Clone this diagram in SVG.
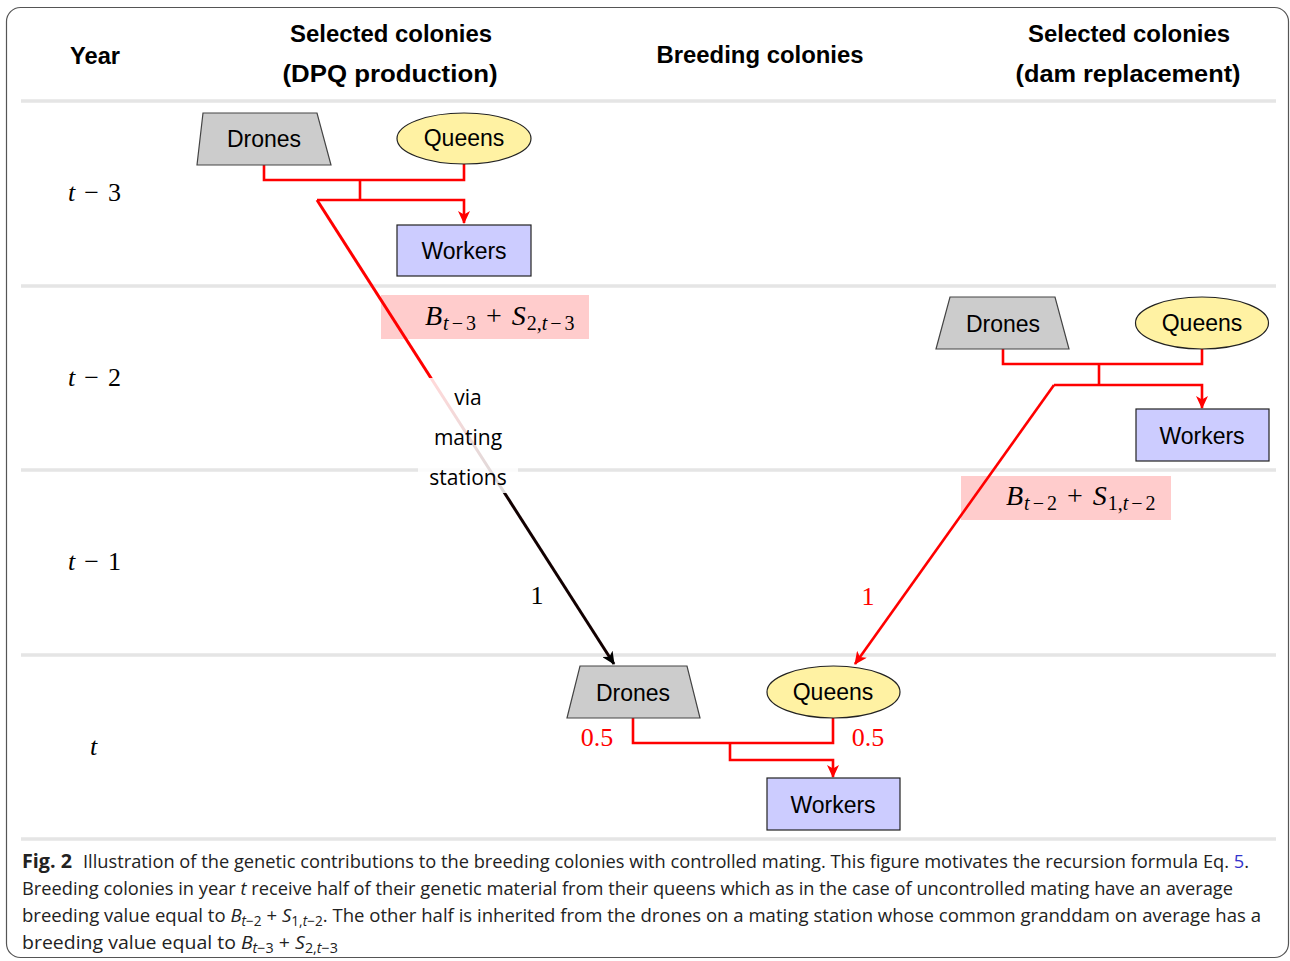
<svg xmlns="http://www.w3.org/2000/svg" width="1290" height="961" viewBox="0 0 1290 961">
<defs>
<style>
.hdr{font-family:"Liberation Sans",Arial,sans-serif;font-weight:bold;font-size:23px;fill:#000;text-anchor:middle}
.node{font-family:"Liberation Sans",Arial,sans-serif;font-size:23px;fill:#000;text-anchor:middle}
.math{font-family:"Liberation Serif","Times New Roman",serif;font-size:26px;fill:#000}
.bm{font-family:"Liberation Serif","Times New Roman",serif;font-size:28px;fill:#000}
.mi{font-style:italic}
.sub{font-size:20px}
.sep{stroke:#e5e5e5;stroke-width:3.5}
.drone{fill:#cccccc;stroke:#444;stroke-width:1.2}
.queen{fill:#fff2a3;stroke:#222;stroke-width:1.2}
.work{fill:#ccccff;stroke:#222;stroke-width:1.2}
.red{fill:none;stroke:#ff0000;stroke-width:2.6;stroke-linejoin:miter}
.pink{fill:#ffcccc}
.cap{font-family:"Open Sans","Liberation Sans",sans-serif;font-size:19px;fill:#222}
.capb{font-family:"Open Sans","Liberation Sans",sans-serif;font-size:19px;font-weight:bold;fill:#222}
.via{font-family:"Open Sans","Liberation Sans",sans-serif;font-size:21px;fill:#000;text-anchor:middle}
</style>
<marker id="ahr" viewBox="0 0 14 12" refX="12" refY="6" markerWidth="14" markerHeight="12" markerUnits="userSpaceOnUse" orient="auto">
<path d="M0,0 L13,6 L0,12 L3.5,6 Z" fill="#ff0000"/>
</marker>
<marker id="ahk" viewBox="0 0 14 12" refX="12" refY="6" markerWidth="14" markerHeight="12" markerUnits="userSpaceOnUse" orient="auto">
<path d="M0,0 L13,6 L0,12 L3.5,6 Z" fill="#000"/>
</marker>
<linearGradient id="grad" gradientUnits="userSpaceOnUse" x1="317" y1="200" x2="614" y2="665">
<stop offset="0" stop-color="#ff0000"/>
<stop offset="0.384" stop-color="#ff0000"/>
<stop offset="0.63" stop-color="#120000"/>
<stop offset="1" stop-color="#120000"/>
</linearGradient>
</defs>
<rect x="0" y="0" width="1290" height="961" fill="#fff"/>
<rect x="6.5" y="7.5" width="1282" height="950" rx="14" fill="none" stroke="#555" stroke-width="1.2"/>

<g id="grid">
<line class="sep" x1="21" y1="101" x2="1276" y2="101"/>
<line class="sep" x1="21" y1="286" x2="1276" y2="286"/>
<line class="sep" x1="21" y1="470" x2="1276" y2="470"/>
<line class="sep" x1="21" y1="655" x2="1276" y2="655"/>
<line class="sep" x1="21" y1="839" x2="1276" y2="839"/>
</g>

<g id="headers">
<text class="hdr" x="95" y="64" textLength="50" lengthAdjust="spacingAndGlyphs">Year</text>
<text class="hdr" x="391" y="42" textLength="202" lengthAdjust="spacingAndGlyphs">Selected colonies</text>
<text class="hdr" x="390" y="82" textLength="215" lengthAdjust="spacingAndGlyphs">(DPQ production)</text>
<text class="hdr" x="760" y="63" textLength="207" lengthAdjust="spacingAndGlyphs">Breeding colonies</text>
<text class="hdr" x="1129" y="42" textLength="202" lengthAdjust="spacingAndGlyphs">Selected colonies</text>
<text class="hdr" x="1128" y="82" textLength="225" lengthAdjust="spacingAndGlyphs">(dam replacement)</text>
</g>

<g id="years" class="math">
<text x="68" y="201"><tspan class="mi">t</tspan><tspan dx="9">−</tspan><tspan dx="9">3</tspan></text>
<text x="68" y="386"><tspan class="mi">t</tspan><tspan dx="9">−</tspan><tspan dx="9">2</tspan></text>
<text x="68" y="570"><tspan class="mi">t</tspan><tspan dx="9">−</tspan><tspan dx="9">1</tspan></text>
<text x="90" y="755"><tspan class="mi">t</tspan></text>
</g>

<g id="label-bs2">
<rect class="pink" x="381" y="295" width="208" height="44"/>
<text class="bm" x="425" y="325"><tspan class="mi">B</tspan><tspan class="sub mi" dx="1" dy="5">t</tspan><tspan class="sub" dx="3">−</tspan><tspan class="sub" dx="3">3</tspan><tspan dx="10" dy="-5">+</tspan><tspan class="mi" dx="10">S</tspan><tspan class="sub" dx="1" dy="5">2,</tspan><tspan class="sub mi">t</tspan><tspan class="sub" dx="3">−</tspan><tspan class="sub" dx="3">3</tspan></text>
</g>

<g id="label-bs1">
<rect class="pink" x="961" y="476" width="210" height="44"/>
<text class="bm" x="1006" y="505"><tspan class="mi">B</tspan><tspan class="sub mi" dx="1" dy="5">t</tspan><tspan class="sub" dx="3">−</tspan><tspan class="sub" dx="3">2</tspan><tspan dx="10" dy="-5">+</tspan><tspan class="mi" dx="10">S</tspan><tspan class="sub" dx="1" dy="5">1,</tspan><tspan class="sub mi">t</tspan><tspan class="sub" dx="3">−</tspan><tspan class="sub" dx="3">2</tspan></text>
</g>

<g id="connectors">
<path class="red" d="M264,165 V180 H464 V164"/>
<path class="red" d="M360,180 V200"/>
<path class="red" d="M317,200 H464 V223" marker-end="url(#ahr)"/>
<path class="red" d="M1003,349 V364 H1202 V349"/>
<path class="red" d="M1099,364 V385"/>
<path class="red" d="M1054,385 H1202 V408" marker-end="url(#ahr)"/>
<path class="red" d="M1054,385 L855,664" marker-end="url(#ahr)"/>
<path class="red" d="M633,718 V743 H833 V718"/>
<path class="red" d="M730,743 V760 H833 V777" marker-end="url(#ahr)"/>
<path d="M317,200 L614,664" fill="none" stroke="url(#grad)" stroke-width="3" marker-end="url(#ahk)"/>
</g>

<g id="label-via">
<rect x="418" y="378" width="100" height="115" fill="#fff" fill-opacity="0.85"/>
<text class="via" x="468" y="405">via</text>
<text class="via" x="468" y="445">mating</text>
<text class="via" x="468" y="485">stations</text>
</g>

<g id="weights" class="math" text-anchor="middle" font-size="23">
<text x="537" y="604">1</text>
<text x="868" y="605" fill="#ff0000">1</text>
<text x="597" y="746" fill="#ff0000">0.5</text>
<text x="868" y="746" fill="#ff0000">0.5</text>
</g>

<g id="drones-t3">
<polygon class="drone" points="203,113 317,113 331,165 197,165"/>
<text class="node" x="264" y="147">Drones</text>
</g>
<g id="queens-t3">
<ellipse class="queen" cx="464" cy="138.5" rx="67" ry="25.5"/>
<text class="node" x="464" y="146">Queens</text>
</g>
<g id="workers-t3">
<rect class="work" x="397" y="225" width="134" height="51"/>
<text class="node" x="464" y="259">Workers</text>
</g>

<g id="drones-t2">
<polygon class="drone" points="950,297 1055,297 1069,349 936,349"/>
<text class="node" x="1003" y="332">Drones</text>
</g>
<g id="queens-t2">
<ellipse class="queen" cx="1202" cy="323" rx="66.5" ry="26"/>
<text class="node" x="1202" y="331">Queens</text>
</g>
<g id="workers-t2">
<rect class="work" x="1136" y="409" width="133" height="52"/>
<text class="node" x="1202" y="444">Workers</text>
</g>

<g id="drones-t">
<polygon class="drone" points="580,666 687,666 700,718 567,718"/>
<text class="node" x="633" y="701">Drones</text>
</g>
<g id="queens-t">
<ellipse class="queen" cx="833.5" cy="692" rx="66.5" ry="26"/>
<text class="node" x="833" y="700">Queens</text>
</g>
<g id="workers-t">
<rect class="work" x="767" y="778" width="133" height="52"/>
<text class="node" x="833" y="813">Workers</text>
</g>

<g id="caption">
<text class="capb" x="22" y="868" textLength="50" lengthAdjust="spacingAndGlyphs">Fig. 2</text>
<text class="cap" x="83" y="868" textLength="1166" lengthAdjust="spacingAndGlyphs">Illustration of the genetic contributions to the breeding colonies with controlled mating. This figure motivates the recursion formula Eq. <tspan fill="#3333cc">5</tspan>.</text>
<text class="cap" x="22" y="895" textLength="1211" lengthAdjust="spacingAndGlyphs">Breeding colonies in year <tspan font-style="italic">t</tspan> receive half of their genetic material from their queens which as in the case of uncontrolled mating have an average</text>
<text class="cap" x="22" y="922" textLength="1239" lengthAdjust="spacingAndGlyphs">breeding value equal to <tspan font-style="italic">B</tspan><tspan font-size="14" dy="4"><tspan font-style="italic">t</tspan>−2</tspan><tspan dy="-4"> + </tspan><tspan font-style="italic">S</tspan><tspan font-size="14" dy="4">1,<tspan font-style="italic">t</tspan>−2</tspan><tspan dy="-4">. The other half is inherited from the drones on a mating station whose common granddam on average has a</tspan></text>
<text class="cap" x="22" y="949" textLength="316" lengthAdjust="spacingAndGlyphs">breeding value equal to <tspan font-style="italic">B</tspan><tspan font-size="14" dy="4"><tspan font-style="italic">t</tspan>−3</tspan><tspan dy="-4"> + </tspan><tspan font-style="italic">S</tspan><tspan font-size="14" dy="4">2,<tspan font-style="italic">t</tspan>−3</tspan></text>
</g>
</svg>
